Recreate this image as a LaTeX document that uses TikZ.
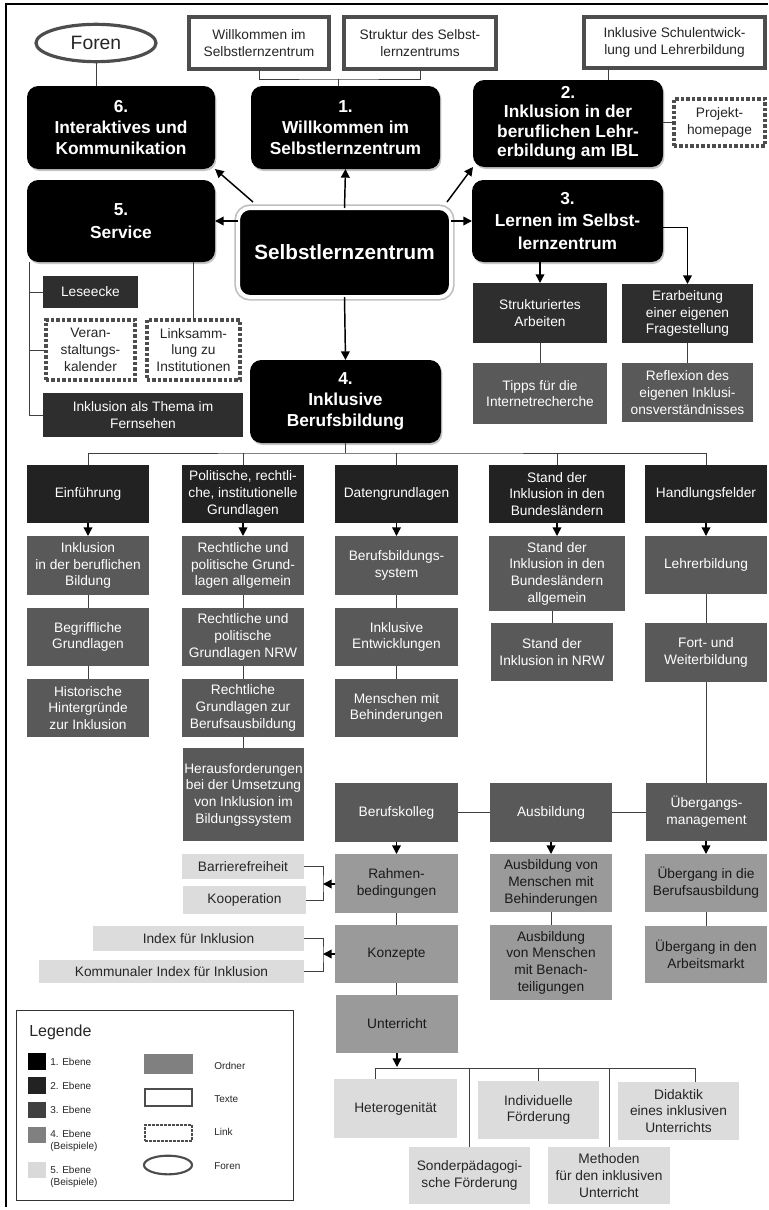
\documentclass[tikz,border=0pt]{standalone}
\usepackage{fontspec}
\setmainfont{Liberation Sans}
\usetikzlibrary{arrows.meta,shadows,calc,shapes.geometric}
\definecolor{cLtwo}{HTML}{222222}
\definecolor{cLdark}{HTML}{2E2E2E}
\definecolor{cLthree}{HTML}{595959}
\definecolor{cLfour}{HTML}{9A9A9A}
\definecolor{cLfive}{HTML}{DCDCDC}
\definecolor{cEdge}{HTML}{4D4D4D}
\newcommand\fA{\fontsize{10.3}{12.5}\selectfont}
\newcommand\fB{\fontsize{13}{15.5}\selectfont\bfseries}
\newcommand\fC{\fontsize{15.5}{18}\selectfont\bfseries}
\newcommand\fL{\fontsize{7.5}{9}\selectfont}
\newcommand\bx[7]{\node[#1,anchor=north west,minimum width={(#5-#3)*0.75pt},minimum height={(#6-#4)*0.75pt}] (#2) at (#3,#4) {#7};}
\tikzset{
  base/.style={inner sep=0pt, outer sep=0pt, align=center, font=\fA},
  lvone/.style={base, fill=black, text=white, rounded corners=8.5pt, font=\fB,
    drop shadow={shadow xshift=1pt, shadow yshift=-1.5pt, opacity=0.45}},
  cen/.style={base, fill=black, text=white, rounded corners=9pt, draw=white,
    line width=3pt, font=\fC, preaction={draw=black!25, line width=5.5pt}},
  lvtwo/.style={base, fill=cLtwo, text=white},
  lvdark/.style={base, fill=cLdark, text=white},
  lvthree/.style={base, fill=cLthree, text=white},
  lvfour/.style={base, fill=cLfour, text=black!90},
  lvfive/.style={base, fill=cLfive, text=black!85},
  textbox/.style={base, fill=white, draw=cEdge, line width=3pt, text=black!85},
  linkbox/.style={base, fill=white, draw=cEdge, line width=2.6pt, dash pattern=on 2.6pt off 1.5pt, text=black!85},
  forenst/.style={ellipse, draw=cEdge, line width=2.4pt, fill=white, inner sep=0pt, text=black!85},
  conn/.style={draw=black!75, line width=0.7pt},
  arr/.style={draw=black, line width=1.1pt, -{Triangle[length=6.5pt,width=6.5pt]}},
  legtxt/.style={anchor=west, inner sep=0pt, font=\fL, text=black!85, align=left},
}
\begin{document}
\begin{tikzpicture}[x=0.75pt,y=-0.75pt]
\useasboundingbox (0,0) rectangle (768,1210);
\draw[line width=0.8pt] (6,1207) -- (6,4) -- (768,4);

% ---------- top level
\node[forenst, minimum width=90pt, minimum height=28pt, font=\fontsize{14.5}{16}\selectfont] (foren) at (96,43) {Foren};
\bx{textbox}{t1}{189}{17}{329}{69}{Willkommen im\\Selbstlernzentrum}
\bx{textbox}{t2}{344}{17}{496}{69}{Struktur des Selbst-\\lernzentrums}
\bx{textbox}{t3}{584}{17}{765}{68}{Inklusive Schulentwick-\\lung und Lehrerbildung}
\bx{lvone}{b6}{27}{86}{215}{169}{6.\\Interaktives und\\Kommunikation}
\bx{lvone}{b1}{251}{86}{440}{169}{1.\\Willkommen im\\Selbstlernzentrum}
\bx{lvone, font=\fontsize{13}{14.6}\selectfont\bfseries}{b2}{473}{80}{663}{167}{2.\\Inklusion in der\\beruflichen Lehr-\\erbildung am IBL}
\bx{linkbox}{proj}{674}{99}{765}{146}{Projekt-\\homepage}
\bx{lvone, font=\fontsize{13}{17.5}\selectfont\bfseries}{b5}{27}{180}{215}{262}{5.\\Service}
\bx{lvone, font=\fontsize{13}{17}\selectfont\bfseries}{b3}{472}{180}{663}{262}{3.\\Lernen im Selbst-\\lernzentrum}
\bx{cen}{c}{238}{208}{451}{297}{Selbstlernzentrum}
\bx{lvone}{b4}{250}{360}{441}{443}{4.\\Inklusive\\Berufsbildung}

% ---------- service
\bx{lvdark}{lese}{43}{276}{138}{308}{Leseecke}
\bx{linkbox}{vk}{46}{320}{135}{380}{Veran-\\staltungs-\\kalender}
\bx{linkbox}{lk}{147}{320}{240}{380}{Linksamm-\\lung zu\\Institutionen}
\bx{lvdark}{tv}{43}{393}{243}{437}{Inklusion als Thema im\\Fernsehen}

% ---------- lernen
\bx{lvdark}{sa}{473}{283}{607}{343}{Strukturiertes\\Arbeiten}
\bx{lvdark}{er}{622}{284}{753}{343}{Erarbeitung\\einer eigenen\\Fragestellung}
\bx{lvthree}{tip}{473}{363}{607}{424}{Tipps für die\\Internetrecherche}
\bx{lvthree}{refl}{622}{363}{753}{422}{Reflexion des\\eigenen Inklusi-\\onsverständnisses}

% ---------- level 2 row
\bx{lvtwo}{ein}{27}{465}{149}{523}{Einführung}
\bx{lvtwo}{pol}{182}{465}{304}{523}{Politische, rechtli-\\che, institutionelle\\Grundlagen}
\bx{lvtwo}{dat}{335}{465}{458}{523}{Datengrundlagen}
\bx{lvtwo}{std}{489}{465}{625}{523}{Stand der\\Inklusion in den\\Bundesländern}
\bx{lvtwo}{hf}{645}{465}{767}{523}{Handlungsfelder}

% ---------- columns
\bx{lvthree}{ein1}{27}{536}{149}{595}{Inklusion\\in der beruflichen\\Bildung}
\bx{lvthree}{ein2}{27}{608}{149}{666}{Begriffliche\\Grundlagen}
\bx{lvthree}{ein3}{27}{679}{149}{737}{Historische\\Hintergründe\\zur Inklusion}
\bx{lvthree}{pol1}{182}{536}{304}{595}{Rechtliche und\\politische Grund-\\lagen allgemein}
\bx{lvthree}{pol2}{182}{608}{304}{666}{Rechtliche und\\politische\\Grundlagen NRW}
\bx{lvthree}{pol3}{182}{679}{304}{737}{Rechtliche\\Grundlagen zur\\Berufsausbildung}
\bx{lvthree}{pol4}{183}{748}{304}{841}{Herausforderungen\\bei der Umsetzung\\von Inklusion im\\Bildungssystem}
\bx{lvthree}{dat1}{335}{536}{458}{595}{Berufsbildungs-\\system}
\bx{lvthree}{dat2}{335}{608}{458}{666}{Inklusive\\Entwicklungen}
\bx{lvthree}{dat3}{335}{679}{458}{737}{Menschen mit\\Behinderungen}
\bx{lvthree}{std1}{489}{536}{625}{611}{Stand der\\Inklusion in den\\Bundesländern\\allgemein}
\bx{lvthree}{std2}{491}{623}{613}{681}{Stand der\\Inklusion in NRW}
\bx{lvthree}{hf1}{645}{536}{767}{594}{Lehrerbildung}
\bx{lvthree}{hf2}{645}{623}{767}{682}{Fort- und\\Weiterbildung}

% ---------- lower row
\bx{lvthree}{bk}{335}{783}{458}{842}{Berufskolleg}
\bx{lvthree}{ab}{490}{783}{612}{842}{Ausbildung}
\bx{lvthree}{ueb}{646}{783}{767}{841}{Übergangs-\\management}
\bx{lvfour}{rb}{335}{854}{458}{913}{Rahmen-\\bedingungen}
\bx{lvfour}{kz}{335}{925}{458}{983}{Konzepte}
\bx{lvfour}{ut}{336}{995}{458}{1053}{Unterricht}
\bx{lvfour}{abm}{490}{854}{612}{912}{Ausbildung von\\Menschen mit\\Behinderungen}
\bx{lvfour}{abb}{490}{925}{612}{1000}{Ausbildung\\von Menschen\\mit Benach-\\teiligungen}
\bx{lvfour}{ue1}{645}{854}{767}{912}{Übergang in die\\Berufsausbildung}
\bx{lvfour}{ue2}{645}{926}{767}{983}{Übergang in den\\Arbeitsmarkt}

% ---------- level 5
\bx{lvfive}{bf}{182}{854}{304}{879}{Barrierefreiheit}
\bx{lvfive}{ko}{183}{886}{306}{914}{Kooperation}
\bx{lvfive}{ix}{93}{926}{304}{951}{Index für Inklusion}
\bx{lvfive}{kix}{39}{960}{304}{983}{Kommunaler Index für Inklusion}
\bx{lvfive}{het}{334}{1079}{457}{1138}{Heterogenität}
\bx{lvfive}{son}{409}{1147}{530}{1204}{Sonderpädagogi-\\sche Förderung}
\bx{lvfive}{ind}{478}{1081}{599}{1139}{Individuelle\\Förderung}
\bx{lvfive}{met}{548}{1147}{670}{1204}{Methoden\\für den inklusiven\\Unterricht}
\bx{lvfive}{did}{618}{1082}{739}{1140}{Didaktik\\eines inklusiven\\Unterrichts}

% ---------- connectors top
\draw[conn] (foren.south) -- (foren.south |- b6.north);
\coordinate (busA) at (338,79);
\draw[conn] (t1.south) |- (busA) -| (t2.south);
\draw[conn] (busA) -- (busA |- b1.north);
\draw[conn] ([xshift=18pt]t3.south west) -- ([xshift=18pt]t3.south west |- b2.north);
\draw[conn] (b2.east |- proj.west) -- (proj.west);

\draw[arr] (c.north) -- (b1.south);
\draw[arr] ([shift={(15,-6)}]c.north west) -- (b6.south east);
\draw[arr] ([shift={(-4,-6)}]c.north east) -- (b2.south west);
\draw[arr] (c.west |- b5.east) -- (b5.east);
\draw[arr] (c.east |- b3.west) -- (b3.west);
\draw[arr] (c.south) -- (b4.north);

% service
\draw[conn] ([xshift=1.5pt]b5.south west) |- (lese.west);
\draw[conn] ([xshift=1.5pt]b5.south west) |- (vk.west);
\draw[conn] ([xshift=1.5pt]b5.south west) |- (tv.west);
\draw[conn] (lk.north) -- (lk.north |- b5.south);

% lernen
\draw[arr] (b3.south -| sa.north) -- (sa.north);
\draw[arr] ([yshift=-5pt]b3.east) -| (er.north);
\draw[conn] (sa) -- (tip);
\draw[conn] (er) -- (refl);

% berufsbildung bus
\coordinate (bus4) at (344,453);
\draw[conn] (b4.south) -- (b4.south |- bus4);
\draw[conn] (ein.north) |- (bus4) -| (hf.north);
\draw[conn] (pol.north) -- (pol.north |- bus4);
\draw[conn] (dat.north) -- (dat.north |- bus4);
\draw[conn] (std.north) -- (std.north |- bus4);

\draw[arr] (ein) -- (ein1);
\draw[arr] (pol) -- (pol1);
\draw[arr] (dat) -- (dat1);
\draw[arr] (std) -- (std1);
\draw[arr] (hf) -- (hf1);
\draw[conn] (ein1) -- (ein2);
\draw[conn] (ein2) -- (ein3);
\draw[conn] (pol1) -- (pol2);
\draw[conn] (pol2) -- (pol3);
\draw[conn] (pol3.south) -- (pol3.south |- pol4.north);
\draw[conn] (dat1) -- (dat2);
\draw[conn] (dat2) -- (dat3);
\draw[conn] (std1.south -| std2.north) -- (std2.north);
\draw[conn] (hf1) -- (hf2);
\draw[conn] (hf2.south -| ueb.north) -- (ueb.north);

\draw[conn] (bk.east) -- (ab.west);
\draw[conn] (ab.east) -- (ab.east -| ueb.west);
\draw[arr] (bk) -- (rb);
\draw[arr] (ab) -- (abm);
\draw[arr] (ueb.south -| ue1.north) -- (ue1.north);
\draw[conn] (rb) -- (kz);
\draw[conn] (kz.south) -- (kz.south |- ut.north);
\draw[conn] (abm) -- (abb);
\draw[conn] (ue1) -- (ue2);

% brackets
\coordinate (brk1) at (323,884);
\draw[conn] (bf.east) -| (brk1) |- (ko.east);
\draw[arr] (rb.west |- brk1) -- (brk1);
\coordinate (brk2) at (323,954);
\draw[conn] (ix.east) -| (brk2) |- (kix.east);
\draw[arr] (kz.west |- brk2) -- (brk2);

% unterricht bus
\coordinate (ua) at (397,1067);
\coordinate (bL) at (375,1068);
\coordinate (bR) at (695,1068);
\draw[arr] (ut.south) -- (ut.south |- ua);
\draw[conn] (het.north -| bL) -- (bL) -- (bR) -- (bR |- did.north);
\draw[conn] (son.north) -- (son.north |- bL);
\draw[conn] (ind.north) -- (ind.north |- bL);
\draw[conn] (met.north) -- (met.north |- bL);

% ---------- legend
\bx{draw=black!80, line width=0.8pt, inner sep=0pt}{leg}{16}{1010}{293}{1200}{}
\node[anchor=west, inner sep=0pt, font=\fontsize{12}{14}\selectfont, text=black!85] (legt) at (29,1032) {Legende};
\bx{fill=black, inner sep=0pt}{q1}{28}{1053}{46}{1070}{}
\bx{fill=cLtwo, inner sep=0pt}{q2}{28}{1077}{46}{1094}{}
\bx{fill=black!75, inner sep=0pt}{q3}{28}{1102}{46}{1118}{}
\bx{fill=black!50, inner sep=0pt}{q4}{28}{1127}{46}{1143}{}
\bx{fill=black!15, inner sep=0pt}{q5}{28}{1162}{46}{1178}{}
\node[legtxt] (l1) at (50,1062) {1. Ebene};
\node[legtxt] (l2) at (50,1086) {2. Ebene};
\node[legtxt] (l3) at (50,1110) {3. Ebene};
\node[legtxt] (l4) at (50,1141) {4. Ebene\\(Beispiele)};
\node[legtxt] (l5) at (50,1177) {5. Ebene\\(Beispiele)};
\bx{fill=black!50, inner sep=0pt}{o1}{144}{1054}{193}{1074}{}
\bx{textbox, line width=2.2pt}{o2}{145}{1089}{192}{1106}{}
\bx{linkbox, line width=1.6pt, dash pattern=on 2pt off 1pt}{o3}{145}{1125}{192}{1141}{}
\node[forenst, line width=1.6pt, minimum width=36pt, minimum height=14pt] (o4) at (168,1165) {};
\node[legtxt] (m1) at (214,1066) {Ordner};
\node[legtxt] (m2) at (214,1099) {Texte};
\node[legtxt] (m3) at (214,1132) {Link};
\node[legtxt] (m4) at (214,1166) {Foren};
\end{tikzpicture}
\end{document}
